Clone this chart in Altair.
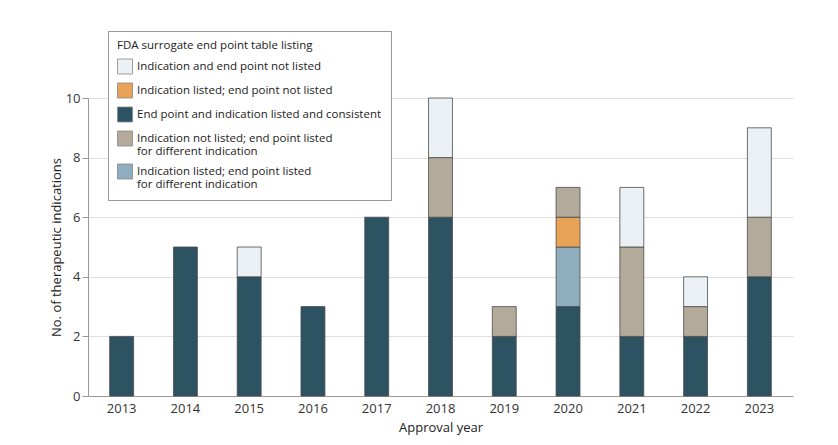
import altair as alt
import pandas as pd

years = ["2013", "2014", "2015", "2016", "2017", "2018", "2019", "2020", "2021", "2022", "2023"]
consistent = [2, 5, 4, 3, 6, 6, 2, 3, 2, 2, 4]
listed_diff = [0, 0, 0, 0, 0, 0, 0, 2, 0, 0, 0]
listed_not = [0, 0, 0, 0, 0, 0, 0, 1, 0, 0, 0]
notlisted_diff = [0, 0, 0, 0, 0, 2, 1, 1, 3, 1, 2]
neither = [0, 0, 1, 0, 0, 2, 0, 0, 2, 1, 3]

cat_names = [
    "End point and indication listed and consistent",
    "Indication listed; end point listed for different indication",
    "Indication listed; end point not listed",
    "Indication not listed; end point listed for different indication",
    "Indication and end point not listed",
]
series = [consistent, listed_diff, listed_not, notlisted_diff, neither]
legend_order = [cat_names[4], cat_names[2], cat_names[0], cat_names[3], cat_names[1]]
colors_by_legend = ["#eaf0f4", "#e9a359", "#2d5262", "#b4aa9a", "#8eaebf"]

rows = []
for si, (name, vals) in enumerate(zip(cat_names, series)):
    for y, v in zip(years, vals):
        if v > 0:
            rows.append({"year": y, "category": name, "count": v, "order": si})
df = pd.DataFrame(rows)

font = "Open Sans"

chart = alt.Chart(df).mark_bar(stroke="#4a4a4a", strokeWidth=0.8).encode(
    x=alt.X("year:N", sort=years, title="Approval year",
            scale=alt.Scale(paddingInner=0.625, paddingOuter=0.34),
            axis=alt.Axis(labelAngle=0, ticks=False, domainColor="#999999",
                          labelPadding=6, labelFontSize=13, titleFontSize=13,
                          titleFontWeight="normal", labelColor="#333333",
                          titleColor="#222222", titlePadding=6)),
    y=alt.Y("count:Q", title="No. of therapeutic indications",
            scale=alt.Scale(domain=[0, 10]),
            axis=alt.Axis(values=[0, 2, 4, 6, 8, 10], gridColor="#e0e0e0",
                          domainColor="#999999", tickColor="#999999", tickSize=6,
                          labelFontSize=13, titleFontSize=13, titleFontWeight="normal",
                          labelColor="#333333", titleColor="#222222", titlePadding=2)),
    color=alt.Color("category:N",
                    scale=alt.Scale(domain=legend_order, range=colors_by_legend),
                    legend=alt.Legend(
                        title="FDA surrogate end point table listing",
                        orient="none", legendX=20, legendY=-67,
                        fillColor="white", strokeColor="#999999",
                        padding=9, symbolType="square", symbolSize=225,
                        symbolStrokeColor="#888888", symbolStrokeWidth=0.8,
                        labelFontSize=11.5, titleFontSize=11.5, titleFontWeight="normal",
                        labelColor="#222222", titleColor="#222222",
                        labelLimit=400, titleLimit=400, rowPadding=4, titlePadding=7,
                        labelExpr="split(replace(datum.label, ' for different', '|for different'), '|')",
                    )),
    order=alt.Order("order:Q", sort="ascending"),
).properties(
    width=705, height=298,
    autosize=alt.AutoSizeParams(type="none"),
    padding={"left": 80, "top": 90, "right": 30, "bottom": 41},
).configure(font=font).configure_view(stroke=None)

chart.save("out.html", embed_options={"renderer": "svg", "actions": False})
